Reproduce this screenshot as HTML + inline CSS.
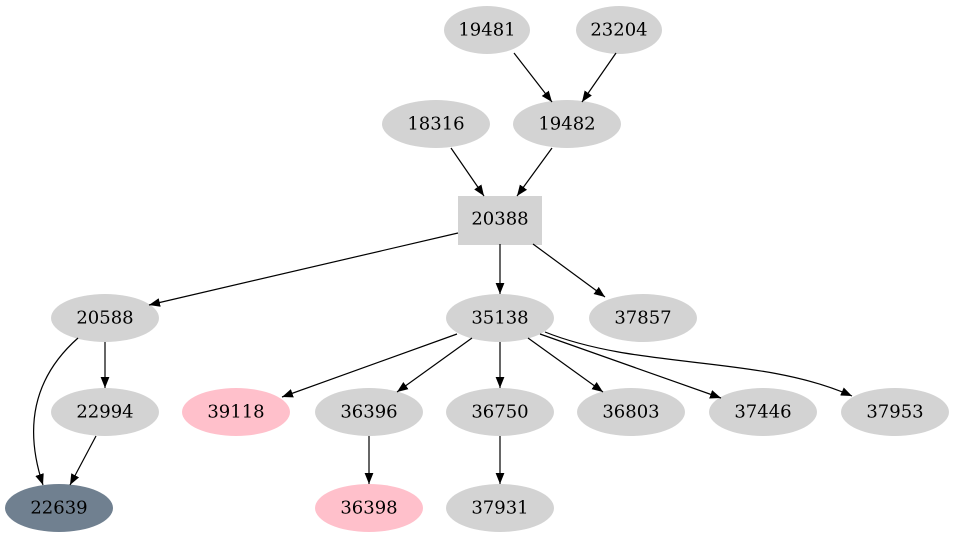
<!DOCTYPE html>
<html><head><meta charset="utf-8"><style>
html,body{margin:0;padding:0;background:#fff;}
svg{display:block;}
text{font-family:"DejaVu Serif",serif;font-size:18px;text-anchor:middle;dominant-baseline:central;fill:#000;}
</style></head><body>
<svg width="955" height="539" viewBox="0 0 955 539" xmlns="http://www.w3.org/2000/svg">
<defs><marker id="a" viewBox="0 0 10 10" refX="10" refY="5" markerWidth="11" markerHeight="11" markerUnits="userSpaceOnUse" orient="auto"><path d="M0,1 L10,5 L0,9 z" fill="#000"/></marker></defs>
<g fill="#d3d3d3">
<ellipse cx="487" cy="30" rx="43" ry="24"/>
<ellipse cx="619" cy="30" rx="43" ry="24"/>
<ellipse cx="436" cy="124" rx="54" ry="24"/>
<ellipse cx="567" cy="124" rx="54" ry="24"/>
<rect x="458" y="196" width="84" height="49"/>
<ellipse cx="105" cy="318" rx="54" ry="24"/>
<ellipse cx="500" cy="318" rx="54" ry="24"/>
<ellipse cx="643" cy="318" rx="54" ry="24"/>
<ellipse cx="105" cy="412" rx="54" ry="24"/>
<ellipse cx="236" cy="412" rx="54" ry="24" fill="#ffc0cb"/>
<ellipse cx="369" cy="412" rx="54" ry="24"/>
<ellipse cx="500" cy="412" rx="54" ry="24"/>
<ellipse cx="631" cy="412" rx="54" ry="24"/>
<ellipse cx="763" cy="412" rx="54" ry="24"/>
<ellipse cx="895" cy="412" rx="54" ry="24"/>
<ellipse cx="59" cy="508" rx="54" ry="24" fill="#708090"/>
<ellipse cx="369" cy="508" rx="54" ry="24" fill="#ffc0cb"/>
<ellipse cx="500" cy="508" rx="54" ry="24"/>
</g>
<g stroke="#000" stroke-width="1.2" fill="none" marker-end="url(#a)">
<path d="M514,53 L552,102"/>
<path d="M616,53 L582,102"/>
<path d="M451,148 L484,196"/>
<path d="M552,148 L517,196"/>
<path d="M458,233 L149,305"/>
<path d="M500,244 L500,294"/>
<path d="M533,244 L605,297"/>
<path d="M78,338 C25,385 28,440 43,485"/>
<path d="M105,342 L105,388"/>
<path d="M96,436 L70,485"/>
<path d="M457,334 L282,397"/>
<path d="M472,338 L397,392"/>
<path d="M500,342 L500,388"/>
<path d="M528,338 L603,392"/>
<path d="M540,334 L721,398"/>
<path d="M545,332 C640,370 760,355 852,396"/>
<path d="M369,436 L369,484"/>
<path d="M500,436 L500,484"/>
</g>
<text x="487" y="30">19481</text>
<text x="619" y="30">23204</text>
<text x="436" y="124">18316</text>
<text x="567" y="124">19482</text>
<text x="500" y="219">20388</text>
<text x="105" y="318">20588</text>
<text x="500" y="318">35138</text>
<text x="643" y="318">37857</text>
<text x="105" y="412">22994</text>
<text x="236" y="412">39118</text>
<text x="369" y="412">36396</text>
<text x="500" y="412">36750</text>
<text x="631" y="412">36803</text>
<text x="763" y="412">37446</text>
<text x="895" y="412">37953</text>
<text x="59" y="508">22639</text>
<text x="369" y="508">36398</text>
<text x="500" y="508">37931</text>
</svg>
</body></html>
